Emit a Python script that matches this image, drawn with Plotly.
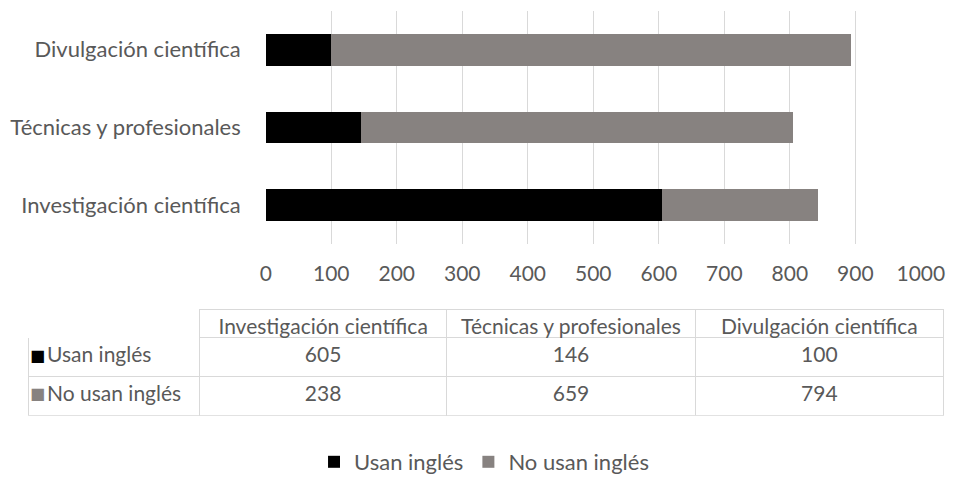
import plotly.graph_objects as go

categories = ["Investigación científica", "Técnicas y profesionales", "Divulgación científica"]
series_names = ["Usan inglés", "No usan inglés"]
usan_ingles = [605, 146, 100]
no_usan_ingles = [238, 659, 794]
tick_values = [0, 100, 200, 300, 400, 500, 600, 700, 800, 900, 1000]
colors = ["#000000", "#878280"]

W, H = 971, 483
FONT = "Lato, Calibri, 'Open Sans', sans-serif"
TXT = "#595959"
grid = "#d9d9d9"

fig = go.Figure()
for name, vals, col in zip(series_names, [usan_ingles, no_usan_ingles], colors):
    fig.add_trace(go.Bar(
        y=categories, x=vals, name=name, orientation="h",
        marker=dict(color=col, line=dict(width=0)),
        width=0.41,
    ))

NB = "\u00a0"
row_labels = [NB * 2 + n.replace(" ", NB) for n in series_names]
cols_vals = [row_labels]
for i in range(len(categories)):
    cols_vals.append([str(usan_ingles[i]), str(no_usan_ingles[i])])

tbl_top, hdr_h, row_h = 317, 28, 39
fig.add_trace(go.Table(
    domain=dict(x=[23 / W, 968 / W], y=[1 - (tbl_top + hdr_h + 2 * row_h + 3) / H, 1 - tbl_top / H]),
    columnwidth=[177, 255, 257, 256],
    header=dict(
        values=[""] + categories,
        align="center",
        height=hdr_h,
        fill=dict(color="white"),
        line=dict(color=["rgba(0,0,0,0)", grid, grid, grid], width=1),
        font=dict(family=FONT, size=21, color=TXT),
    ),
    cells=dict(
        values=cols_vals,
        align=["left", "center", "center", "center"],
        height=row_h,
        fill=dict(color="white"),
        line=dict(color=grid, width=1),
        font=dict(family=FONT, size=21, color=TXT),
    ),
))

# coloured keys in the table's row-label column
for k, col in enumerate(colors):
    yc = tbl_top + hdr_h + row_h * k + row_h / 2 - 1
    fig.add_annotation(
        xref="paper", yref="paper", x=33 / W, y=1 - yc / H,
        text="■", showarrow=False, xanchor="center", yanchor="middle",
        font=dict(family="DejaVu Sans", size=16, color=col),
    )

fig.update_layout(
    width=W, height=H,
    margin=dict(l=0, r=0, t=0, b=0),
    paper_bgcolor="white", plot_bgcolor="white",
    barmode="stack",
    font=dict(family=FONT, color=TXT),
    showlegend=True,
    legend=dict(
        orientation="h", x=0.508, xanchor="center", y=1 - 473 / H, yanchor="middle",
        font=dict(family=FONT, size=22, color=TXT),
        traceorder="normal",
        itemwidth=30,
    ),
    xaxis=dict(
        domain=[268 / W, 944 / W],
        range=[0, 1000],
        tickvals=tick_values,
        showgrid=True, gridcolor=grid, gridwidth=1,
        zeroline=False, showline=False,
        ticks="",
        tickfont=dict(family=FONT, size=21, color=TXT),
        ticklabelstandoff=15,
    ),
    yaxis=dict(
        domain=[1 - 250 / H, 1 - 11 / H],
        categoryorder="array", categoryarray=categories,
        range=[-0.5, 2.5],
        showgrid=False, zeroline=False, showline=False,
        ticks="",
        tickfont=dict(family=FONT, size=22, color=TXT),
        ticklabelstandoff=24,
    ),
)

fig.write_html(
    "out.html",
    config={"displayModeBar": False},
    post_script="document.body.style.margin='0';document.body.style.overflow='hidden';",
)
